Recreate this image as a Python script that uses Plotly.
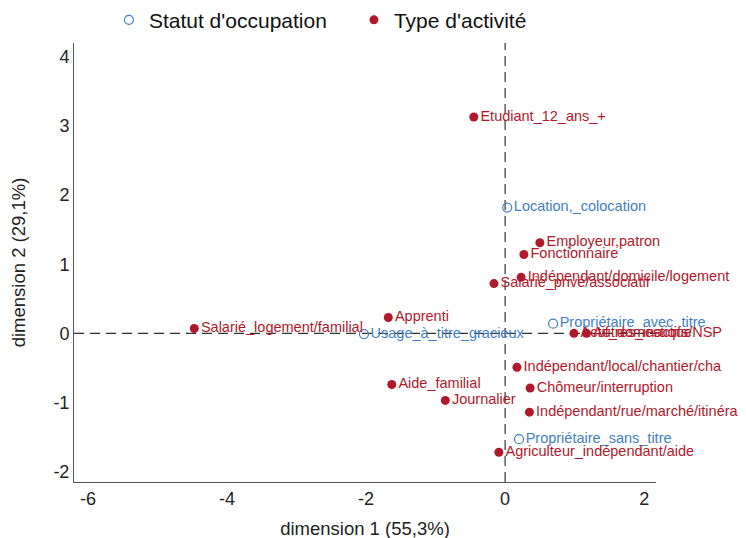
import plotly.graph_objects as go

# Statut d'occupation (supplementary, open blue circles)
occ_labels = ["Location,_colocation", "Propriétaire_avec_titre", "Usage_à_titre_gracieux", "Propriétaire_sans_titre"]
occ_x = [0.03, 0.69, -2.03, 0.20]
occ_y = [1.82, 0.14, -0.01, -1.53]

# Type d'activité (filled red circles)
act_labels = ["Etudiant_12_ans_+", "Employeur,patron", "Fonctionnaire", "Indépendant/domicile/logement",
              "Salarié_privé/associatif", "Apprenti", "Salarié_logement/familial",
              "Actif_domestique", "Autres_inactifs/NSP",
              "Indépendant/local/chantier/cha", "Aide_familial", "Chômeur/interruption", "Journalier",
              "Indépendant/rue/marché/itinéra", "Agriculteur_indépendant/aide"]
act_x = [-0.45, 0.50, 0.27, 0.23, -0.16, -1.68, -4.47, 0.99, 1.17, 0.17, -1.63, 0.36, -0.86, 0.35, -0.09]
act_y = [3.13, 1.31, 1.14, 0.81, 0.72, 0.23, 0.07, 0.00, 0.00, -0.49, -0.74, -0.79, -0.97, -1.14, -1.72]

x_ticks = [-6, -4, -2, 0, 2]
y_ticks = [-2, -1, 0, 1, 2, 3, 4]

RED = "#B2182B"
BLUE = "#3F7FC4"
FONT = "Liberation Sans, Arial, sans-serif"

fig = go.Figure()
fig.add_trace(go.Scatter(
    x=occ_x, y=occ_y, text=occ_labels, mode="markers+text", textposition="middle right",
    name="Statut d'occupation",
    marker=dict(symbol="circle-open", size=9, color=BLUE, line=dict(width=1.2, color=BLUE)),
    textfont=dict(color=BLUE, size=14.5, family=FONT), cliponaxis=False,
))
fig.add_trace(go.Scatter(
    x=act_x, y=act_y, text=act_labels, mode="markers+text", textposition="middle right",
    name="Type d'activité",
    marker=dict(symbol="circle", size=9, color=RED),
    textfont=dict(color=RED, size=14.5, family=FONT), cliponaxis=False,
))

fig.add_hline(y=0, line=dict(color="#333333", width=1.2, dash="10px,6px"), layer="below")
fig.add_vline(x=0, line=dict(color="#333333", width=1.2, dash="10px,6px"), layer="below")

fig.update_layout(
    width=746, height=538,
    margin=dict(l=66, r=98, t=35, b=64, autoexpand=False),
    paper_bgcolor="white", plot_bgcolor="white",
    font=dict(family=FONT, color="#222222"),
    showlegend=True,
    legend=dict(orientation="h", x=0.06, xanchor="left", y=1.052, yanchor="middle",
                font=dict(size=21, family=FONT, color="#111111"), itemwidth=30,
                entrywidth=200, traceorder="normal", bgcolor="rgba(0,0,0,0)"),
    xaxis=dict(range=[-6.2, 2.17], tickvals=x_ticks, ticktext=[str(v) for v in x_ticks],
               showgrid=False, zeroline=False, showline=True, linecolor="#555555", linewidth=1,
               ticks="", tickfont=dict(size=18, color="#222222"), automargin=False,
               title=dict(text="dimension 1 (55,3%)", font=dict(size=18.5, color="#222222"), standoff=14)),
    yaxis=dict(range=[-2.15, 4.2], tickvals=y_ticks, ticktext=[str(v) for v in y_ticks],
               showgrid=False, zeroline=False, showline=True, linecolor="#555555", linewidth=1,
               ticks="", tickfont=dict(size=18, color="#222222"), automargin=False,
               title=dict(text="dimension 2 (29,1%)", font=dict(size=18.5, color="#222222"), standoff=22)),
)

fig.write_html("out.html")
